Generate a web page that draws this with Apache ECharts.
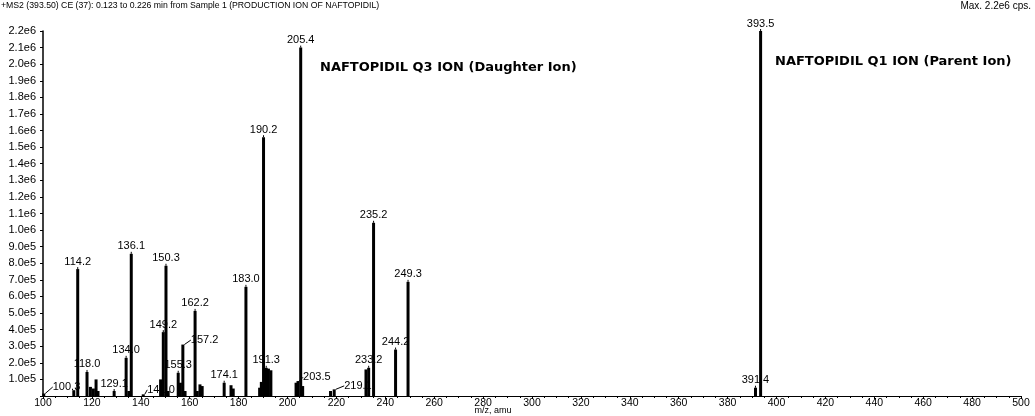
<!DOCTYPE html>
<html>
<head>
<meta charset="utf-8">
<script src="https://cdn.jsdelivr.net/npm/echarts@6/dist/echarts.min.js"></script>
<style>
  html, body { margin: 0; padding: 0; background: #fff; }
  #chart { width: 1035px; height: 416px; }
</style>
</head>
<body>
<div id="chart"></div>
<script>
// ---- data ----
const mzValues = [100.3, 112.6, 114.2, 118.0, 119.4, 120.6, 121.7, 122.5, 129.1, 134.0, 135.1, 136.1,
  141.0, 148.1, 149.2, 150.3, 151.2, 155.3, 156.2, 157.2, 158.1, 162.2, 163.1, 164.2, 165.1,
  174.1, 176.9, 177.8, 183.0, 188.6, 189.3, 190.2, 191.3, 192.2, 193.2, 203.5, 204.3, 205.4, 206.2,
  217.6, 219.1, 232.1, 233.2, 235.2, 244.2, 249.3, 391.4, 393.5];
const intensities = [0.15e5, 0.35e5, 7.65e5, 1.45e5, 0.55e5, 0.45e5, 1.0e5, 0.3e5, 0.3e5, 2.3e5, 0.3e5, 8.57e5,
  0.1e5, 1.0e5, 3.85e5, 7.85e5, 0.3e5, 1.4e5, 0.8e5, 3.1e5, 0.3e5, 5.13e5, 0.3e5, 0.7e5, 0.6e5,
  0.8e5, 0.65e5, 0.45e5, 6.58e5, 0.5e5, 0.85e5, 15.6e5, 1.7e5, 1.65e5, 1.55e5, 0.8e5, 0.9e5, 21.0e5, 0.6e5,
  0.3e5, 0.4e5, 1.6e5, 1.7e5, 10.44e5, 2.8e5, 6.88e5, 0.5e5, 22.0e5];
const labeledMz = [100.3, 114.2, 118.0, 129.1, 134.0, 136.1, 141.0, 149.2, 150.3, 155.3, 157.2, 162.2,
  174.1, 183.0, 190.2, 191.3, 203.5, 205.4, 219.1, 233.2, 235.2, 244.2, 249.3, 391.4, 393.5];
const xTicks = { min: 100, max: 500, step: 20 };
const yTicks = { min: 0, max: 2.2e6, step: 1e5 };
const titleText = '+MS2 (393.50) CE (37): 0.123 to 0.226 min from Sample 1 (PRODUCTION ION OF NAFTOPIDIL)';
const maxText = 'Max. 2.2e6 cps.';
const xAxisName = 'm/z, amu';
const noteQ3 = 'NAFTOPIDIL Q3 ION (Daughter Ion)';
const noteQ1 = 'NAFTOPIDIL Q1 ION (Parent Ion)';

// ---- style (label moves with guide lines) ----
const labelMoves = { '100.3': [9, 1], '141.0': [4, 3], '157.2': [8, 3], '203.5': [7, 2], '219.1': [10, 4] };

const FONT = 'Liberation Sans, Arial, sans-serif';
const seriesData = mzValues.map((m, i) => ({
  value: [m, intensities[i]],
  label: { show: labeledMz.indexOf(m) >= 0 }
}));

const chart = echarts.init(document.getElementById('chart'), null, { renderer: 'canvas' });
chart.setOption({
  animation: false,
  backgroundColor: '#fff',
  grid: { left: 43, right: 14, top: 31, bottom: 20, containLabel: false },
  xAxis: {
    type: 'value',
    min: xTicks.min, max: xTicks.max, interval: xTicks.step,
    axisLine: { show: true, lineStyle: { color: '#000', width: 1 } },
    axisTick: { show: true, length: 3, lineStyle: { color: '#000' } },
    minorTick: { show: true, splitNumber: 4, length: 2, lineStyle: { color: '#000' } },
    splitLine: { show: false },
    axisLabel: { color: '#000', fontFamily: FONT, fontSize: 10.5, margin: 2 }
  },
  yAxis: {
    type: 'value',
    min: yTicks.min, max: yTicks.max, interval: yTicks.step,
    axisLine: { show: true, lineStyle: { color: '#000', width: 1.5 } },
    axisTick: { show: true, length: 3, lineStyle: { color: '#000' } },
    splitLine: { show: false },
    axisLabel: {
      color: '#000', fontFamily: FONT, fontSize: 11, margin: 7,
      formatter: v => v === 0 ? '' : (v >= 1e6 ? (v / 1e6).toFixed(1) + 'e6' : (v / 1e5).toFixed(1) + 'e5')
    }
  },
  series: [{
    type: 'bar',
    barWidth: 3,
    itemStyle: { color: '#000' },
    data: seriesData,
    label: {
      position: 'top', distance: 2, color: '#000', fontFamily: FONT, fontSize: 11,
      formatter: p => p.value[0].toFixed(1)
    },
    labelLine: { show: true, lineStyle: { color: '#000', width: 1 } },
    labelLayout: p => {
      const key = mzValues[p.dataIndex].toFixed(1);
      const mv = labelMoves[key];
      return mv ? { dx: mv[0] + p.labelRect.width / 2, dy: mv[1] } : {};
    }
  }],
  graphic: [
    { type: 'text', left: 1, top: 1, style: { text: titleText, font: '8.7px ' + FONT, fill: '#000' } },
    { type: 'text', right: 4, top: 1, style: { text: maxText, font: '10px ' + FONT, fill: '#000' } },
    { type: 'text', x: 493, y: 411, style: { text: xAxisName, font: '9px ' + FONT, fill: '#000', align: 'center', verticalAlign: 'middle' } },
    { type: 'text', x: 320, y: 68, style: { text: noteQ3, font: 'bold 13px DejaVu Sans, sans-serif', fill: '#000', verticalAlign: 'middle' } },
    { type: 'text', x: 775, y: 62, style: { text: noteQ1, font: 'bold 13px DejaVu Sans, sans-serif', fill: '#000', verticalAlign: 'middle' } }
  ]
});
</script>
</body>
</html>
